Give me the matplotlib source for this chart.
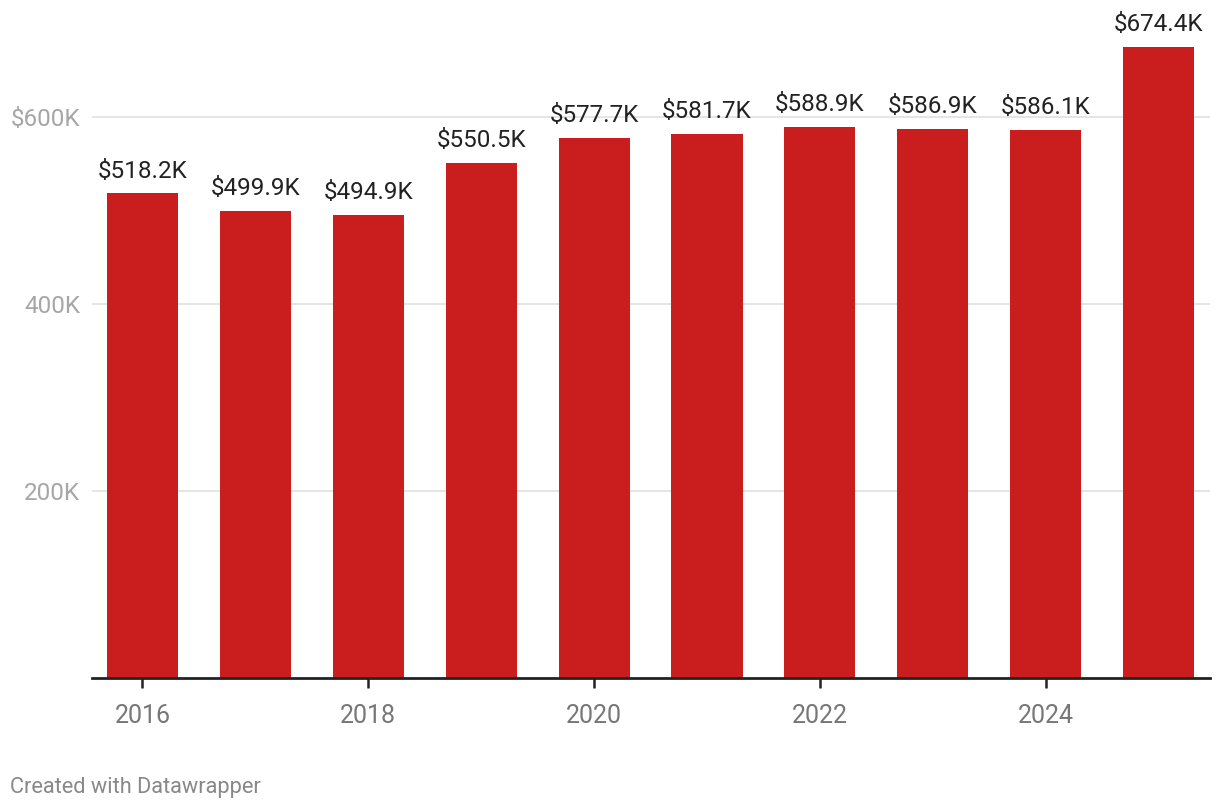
import matplotlib
matplotlib.use("Agg")
import matplotlib.pyplot as plt

years = [2016, 2017, 2018, 2019, 2020, 2021, 2022, 2023, 2024, 2025]
values_k = [518.2, 499.9, 494.9, 550.5, 577.7, 581.7, 588.9, 586.9, 586.1, 674.4]
yticks = [200, 400, 600]
ytick_labels = ["200K", "400K", "$600K"]
xtick_years = [2016, 2018, 2020, 2022, 2024]

plt.rcParams['font.family'] = ['Roboto', 'DejaVu Sans']

fig = plt.figure(figsize=(12.2, 8.1), dpi=100)
ax = fig.add_axes([92/1220, 1 - 678/810, (1210-92)/1220, 678/810])

bar_color = '#c91d1e'
ax.bar(years, values_k, width=0.63, color=bar_color, zorder=2)

for x, v in zip(years, values_k):
    ax.annotate(f"${v:.1f}K", (x, v), xytext=(0, 11.5), textcoords='offset points',
                ha='center', va='baseline', fontsize=17.5, color='#222222',
                annotation_clip=False)

ax.set_xlim(2016 - 0.447, 2016 + 9.455)
ax.set_ylim(0, 678/0.935)

for s in ['top', 'right', 'left']:
    ax.spines[s].set_visible(False)
ax.spines['bottom'].set_color('#222222')
ax.spines['bottom'].set_linewidth(2)
ax.spines['bottom'].set_zorder(3)

ax.set_yticks(yticks)
ax.set_yticklabels(ytick_labels)
ax.tick_params(axis='y', length=0, pad=8.5, labelsize=17.5, labelcolor='#a6a6a6')
ax.yaxis.grid(True, color='#e3e3e3', linewidth=1.3, zorder=0)
ax.set_axisbelow(True)

ax.set_xticks(xtick_years)
ax.set_xticklabels([str(y) for y in xtick_years])
ax.tick_params(axis='x', length=7, width=1.8, color='#222222', pad=12,
               labelsize=18, labelcolor='#777777')

fig.text(10/1220, 1 - 787/810, "Created with Datawrapper", ha='left', va='center',
         fontsize=15.7, color='#888888')

fig.savefig("out.png", dpi=100)
